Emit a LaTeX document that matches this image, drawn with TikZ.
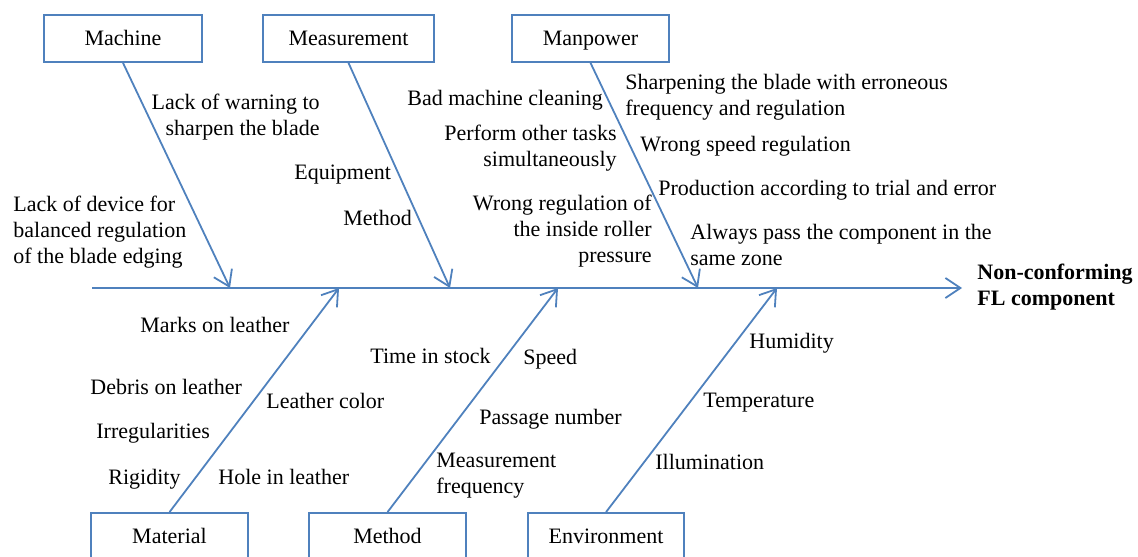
\documentclass[tikz,border=0pt]{standalone}
\usepackage{fontspec}
\setmainfont{Liberation Serif}
\usetikzlibrary{arrows.meta}
\definecolor{bone}{RGB}{79,129,189}
\begin{document}
\begin{tikzpicture}[x=0.5pt,y=-0.5pt,
  every node/.style={font=\fontsize{11}{13}\selectfont, inner sep=0pt},
  catbox/.style={draw=bone, line width=0.9pt, minimum height=47*0.5pt, fill=white, text height=8.8pt, text depth=1.6pt},
  boneline/.style={draw=bone, line width=0.9pt, -{Straight Barb[length=7.5pt,width=10pt,line width=0.9pt]}},
  lab/.style={anchor=north west, align=left},
  labr/.style={anchor=north east, align=right}]
\useasboundingbox (0,0) rectangle (1138,556);
\clip (0,0) rectangle (1138,556);
% spine
\coordinate (spineL) at (92,288);
\coordinate (head) at (962,288);
\coordinate (jMachine) at (230,288);
\coordinate (jMeas) at (450,288);
\coordinate (jMan) at (698,288);
\coordinate (jMat) at (339,288);
\coordinate (jMeth) at (558,288);
\coordinate (jEnv) at (777,288);
\draw[boneline] (spineL) -- (head);
\node[anchor=north west, align=left, font=\fontsize{11}{13}\selectfont\bfseries] (effect) at (977,264) {Non-conforming\\FL component};
% category boxes
\node[catbox, minimum width=158*0.5pt] (machine) at (123,38.5) {Machine};
\node[catbox, minimum width=171*0.5pt] (measurement) at (348.5,38.5) {Measurement};
\node[catbox, minimum width=157*0.5pt] (manpower) at (590.5,38.5) {Manpower};
\node[catbox, minimum width=157*0.5pt] (material) at (169.5,536.5) {Material};
\node[catbox, minimum width=157*0.5pt] (method) at (387.5,536.5) {Method};
\node[catbox, minimum width=156*0.5pt] (environment) at (606,536.5) {Environment};
% bones
\draw[boneline] (machine.south) -- (jMachine);
\draw[boneline] (measurement.south) -- (jMeas);
\draw[boneline] (manpower.south) -- (jMan);
\draw[boneline] (material.north) -- (jMat);
\draw[boneline] (method.north) -- (jMeth);
\draw[boneline] (environment.north) -- (jEnv);
% Machine causes
\node[labr] (c1) at (320,94) {Lack of warning to\\sharpen the blade};
\node[lab] (c2) at (13,196) {Lack of device for\\balanced regulation\\of the blade edging};
% Measurement causes
\node[lab] (c3) at (294,165) {Equipment};
\node[lab] (c4) at (343,210) {Method};
% Manpower causes
\node[lab] (c5) at (407,90) {Bad machine cleaning};
\node[labr] (c6) at (617,125) {Perform other tasks\\simultaneously};
\node[labr] (c7) at (652,195) {Wrong regulation of\\the inside roller\\pressure};
\node[lab] (c8) at (625,74) {Sharpening the blade with erroneous\\frequency and regulation};
\node[lab] (c9) at (640,136) {Wrong speed regulation};
\node[lab] (c10) at (658,180) {Production according to trial and error};
\node[lab] (c11) at (690,224) {Always pass the component in the\\same zone};
% Material causes
\node[lab] (c12) at (140,317) {Marks on leather};
\node[lab] (c13) at (90,379) {Debris on leather};
\node[lab] (c14) at (266,393) {Leather color};
\node[lab] (c15) at (96,423) {Irregularities};
\node[lab] (c16) at (108,469) {Rigidity};
\node[lab] (c17) at (218,469) {Hole in leather};
% Method causes
\node[lab] (c18) at (370,348) {Time in stock};
\node[lab] (c19) at (523,349) {Speed};
\node[lab] (c20) at (479,409) {Passage number};
\node[lab] (c21) at (436,453) {Measurement\\frequency};
% Environment causes
\node[lab] (c22) at (749,333) {Humidity};
\node[lab] (c23) at (703,393) {Temperature};
\node[lab] (c24) at (655,454) {Illumination};
\end{tikzpicture}
\end{document}
